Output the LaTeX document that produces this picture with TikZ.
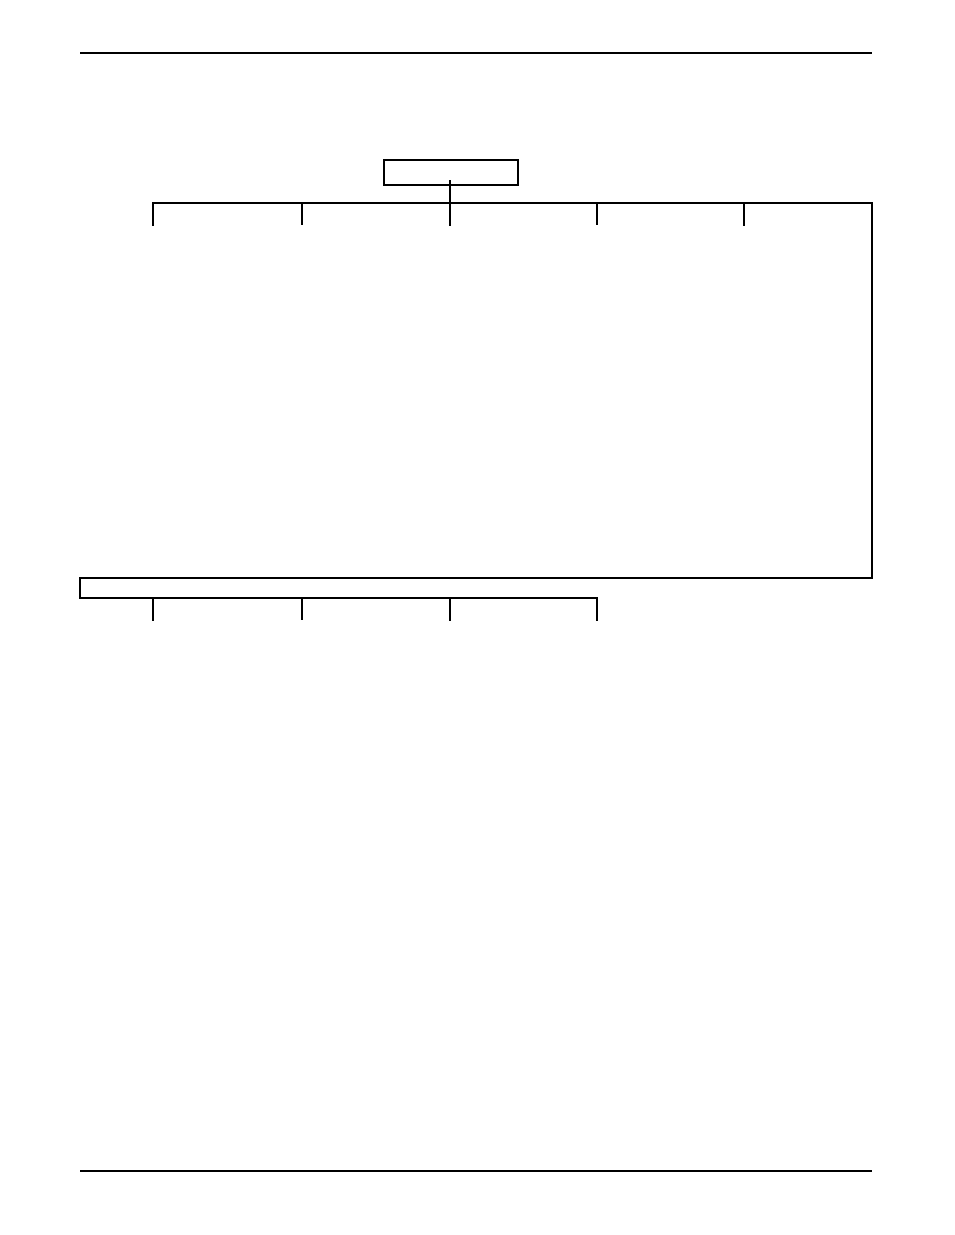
\documentclass[tikz,border=0pt]{standalone}
\begin{document}
\begin{tikzpicture}[x=1pt,y=-1pt,
  thin line/.style={line width=1.1pt,line cap=rect},
  thick line/.style={line width=2pt},
  rootbox/.style={draw,line width=2pt,minimum width=134pt,minimum height=25pt,inner sep=0pt}]
\useasboundingbox[fill=white] (0,0) rectangle (954,1235);
% page rules
\draw[line width=1.2pt] (80,53) -- (872,53);
\draw[line width=1.2pt] (80,1171) -- (872,1171);
% root box
\node[rootbox] (root) at (451,172.5) {};
\coordinate (hub) at (450,203);
\coordinate (hubend) at (450,225);
\draw[thin line] (450,181) -- (hubend);
% top bus
\coordinate (busL) at (153,203);
\coordinate (busR) at (872,203);
\coordinate (corner) at (872,578);
\draw[thin line] (busL) -- (busR) -- (corner);
\foreach \x/\s in {153/thin line,302/thick line,450/thin line,597/thick line,744/thin line}
  \draw[\s] (\x,203) -- (\x,225);
% lower bar
\coordinate (lbTL) at (80,578);
\coordinate (lbBL) at (80,598);
\coordinate (lbBR) at (597,598);
\draw[thin line] (corner) -- (lbTL) -- (lbBL) -- (lbBR);
\foreach \x/\s in {153/thin line,302/thick line,450/thin line,597/thin line}
  \draw[\s] (\x,598) -- (\x,620);
\end{tikzpicture}
\end{document}
